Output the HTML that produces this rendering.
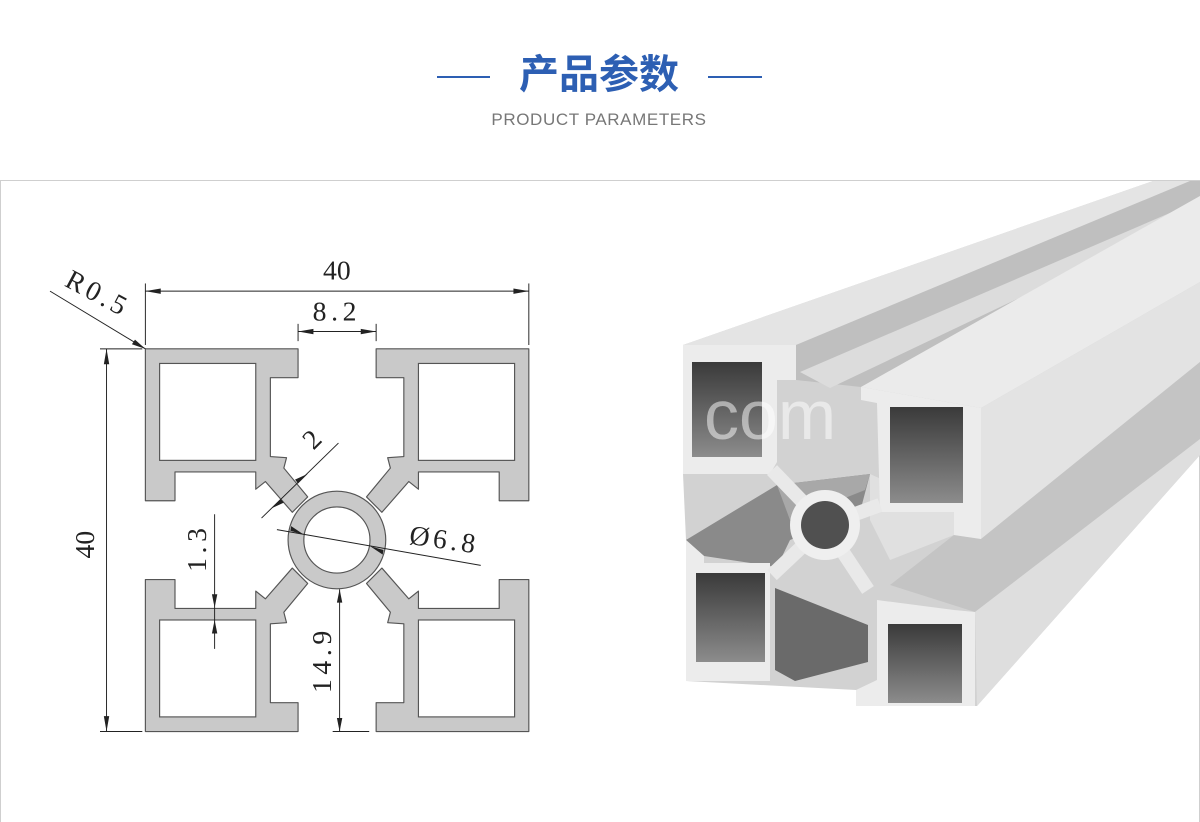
<!DOCTYPE html>
<html><head><meta charset="utf-8"><style>
html,body{margin:0;padding:0;background:#fff;width:1200px;height:822px;overflow:hidden}
svg{display:block}
</style></head><body>
<svg width="1200" height="822" viewBox="0 0 1200 822" xmlns="http://www.w3.org/2000/svg">
<rect x="0" y="0" width="1200" height="822" fill="#fff"/>
<!-- header -->
<line x1="437" y1="77" x2="490" y2="77" stroke="#2d5fb3" stroke-width="2"/>
<line x1="708" y1="77" x2="762" y2="77" stroke="#2d5fb3" stroke-width="2"/>
<text x="599" y="88" text-anchor="middle" font-family="'Liberation Sans','Noto Sans CJK SC',sans-serif" font-size="40" font-weight="bold" fill="#2d5fb3">产品参数</text>
<text x="599" y="125" text-anchor="middle" font-family="'Liberation Sans',sans-serif" font-size="17" fill="#777" letter-spacing="0.6">PRODUCT PARAMETERS</text>
<rect x="0.5" y="180.5" width="1199" height="645" fill="none" stroke="#cfcfcf" stroke-width="1"/>

<!-- left drawing (zoom coords) -->
<g transform="translate(0,170) scale(0.3846)">
  <defs>
    <g id="q">
      <path d="M378,465 H775 V540 H703 V745 L745,748 L738,775 L800,850 L760,890 L690,810 L665,830 V785 H455 V860 H378 Z" fill="#c9c9c9" stroke="#555" stroke-width="3" stroke-linejoin="round"/>
      <rect x="415" y="503" width="250" height="252" fill="#fff" stroke="#555" stroke-width="3"/>
    </g>
  </defs>
  <use href="#q"/>
  <use href="#q" transform="translate(1753,0) scale(-1,1)"/>
  <use href="#q" transform="translate(0,1925) scale(1,-1)"/>
  <use href="#q" transform="translate(1753,1925) scale(-1,-1)"/>
  <circle cx="876" cy="962" r="127" fill="#c9c9c9" stroke="#555" stroke-width="3"/>
  <circle cx="876" cy="962" r="86" fill="#fff" stroke="#555" stroke-width="3"/>
  <g stroke="#222" stroke-width="2.5" fill="none">
    <line x1="378" y1="295" x2="378" y2="455"/>
    <line x1="1375" y1="295" x2="1375" y2="455"/>
    <line x1="378" y1="315" x2="1375" y2="315"/>
    <line x1="775" y1="400" x2="775" y2="445"/>
    <line x1="978" y1="400" x2="978" y2="445"/>
    <line x1="775" y1="420" x2="978" y2="420"/>
    <line x1="260" y1="465" x2="370" y2="465"/>
    <line x1="260" y1="1460" x2="370" y2="1460"/>
    <line x1="277" y1="465" x2="277" y2="1460"/>
    <line x1="130" y1="315" x2="378" y2="465"/>
    <line x1="680" y1="905" x2="880" y2="710"/>
    <line x1="720" y1="935" x2="1250" y2="1028"/>
    <line x1="558" y1="895" x2="558" y2="1245"/>
    <line x1="883" y1="1090" x2="883" y2="1460"/>
    <line x1="865" y1="1460" x2="960" y2="1460"/>
  </g>
  <g fill="#222">
    <path d="M378,315 l40,-7 v14z"/><path d="M1375,315 l-40,-7 v14z"/>
    <path d="M775,420 l40,-7 v14z"/><path d="M978,420 l-40,-7 v14z"/>
    <path d="M277,465 l-7,40 h14z"/><path d="M277,1460 l-7,-40 h14z"/>
    <path d="M378,465 l-35,-12 l8,-12z"/>
    <path d="M558,1138 l-7,-35 h14z"/><path d="M558,1170 l-7,35 h14z"/>
    <path d="M883,1090 l-7,35 h14z"/><path d="M883,1460 l-7,-35 h14z"/>
    <path d="M790,948 l-35,-10 l2,-12z"/><path d="M962,978 l35,10 l-2,12z"/>
    <path d="M800,790 l-25,25 l-8,-10z"/><path d="M705,880 l25,-25 l8,10z"/>
  </g>
  <g font-family="'Liberation Serif',serif" font-size="72" fill="#222">
    <text x="876" y="285" text-anchor="middle">40</text>
    <text x="876" y="392" text-anchor="middle" letter-spacing="12">8.2</text>
    <text transform="translate(165,300) rotate(28)" letter-spacing="10">R0.5</text>
    <text transform="translate(245,1010) rotate(-90)" >40</text>
    <text transform="translate(535,1045) rotate(-90)" letter-spacing="12">1.3</text>
    <text transform="translate(860,1360) rotate(-90)" letter-spacing="12">14.9</text>
    <text transform="translate(815,730) rotate(-45)">2</text>
    <text transform="translate(1062,972) rotate(8)" letter-spacing="10">Ø6.8</text>
  </g>
</g>

<!-- right photo (full coords) -->
<defs>
  <linearGradient id="hole" x1="0" y1="0" x2="0" y2="1"><stop offset="0" stop-color="#3a3a3a"/><stop offset="1" stop-color="#8c8c8c"/></linearGradient>
</defs>
<path d="M683,345 L1153,181 L1200,181 L1200,455 L977,706 L856,706 L856,690 L686,681 L686,540 L683,474 Z" fill="#d2d2d2"/>
<path d="M683,345 L1153,181 L1190,181 L796,345 Z" fill="#e4e4e4"/>
<path d="M796,345 L1190,181 L1200,181 L1200,196 L861,387 L796,380 Z" fill="#bfbfbf"/>
<path d="M800,372 L1200,200 L1200,212 L830,388 Z" fill="#dcdcdc"/>
<path d="M861,387 L1200,196 L1200,282 L981,408 Z" fill="#ebebeb"/>
<path d="M981,408 L1200,282 L1200,362 L981,539 Z" fill="#e3e3e3"/>
<path d="M954,535 L981,539 L1200,362 L1200,440 L975,612 L890,585 Z" fill="#c4c4c4"/>
<path d="M975,612 L1200,439 L1200,455 L977,706 Z" fill="#dedede"/>
<!-- slots -->
<path d="M686,540 L777,485 L870,474 L860,512 L790,540 L777,567 L704,556 Z" fill="#8a8a8a"/>
<path d="M777,485 L870,474 L865,490 L790,520 Z" fill="#a8a8a8"/>
<path d="M775,588 L868,625 L868,662 L795,681 L775,670 Z" fill="#6a6a6a"/>
<path d="M870,474 L954,512 L954,535 L890,560 L870,520 Z" fill="#e0e0e0"/>
<!-- front faces -->
<path d="M683,345 L796,345 L796,380 L777,380 L777,462 L770,474 L683,474 Z" fill="#ececec"/>
<path d="M861,387 L981,408 L981,539 L954,535 L954,512 L880,512 L877,403 L861,400 Z" fill="#ececec"/>
<path d="M686,540 L704,556 L704,563 L770,563 L770,681 L686,681 Z" fill="#ececec"/>
<path d="M856,690 L877,680 L877,600 L954,610 L975,612 L975,706 L856,706 Z" fill="#ececec"/>
<!-- hub cross -->
<g stroke="#e9e9e9" stroke-width="14" stroke-linecap="butt">
  <line x1="825" y1="525" x2="772" y2="470"/>
  <line x1="825" y1="525" x2="880" y2="505"/>
  <line x1="825" y1="525" x2="772" y2="575"/>
  <line x1="825" y1="525" x2="868" y2="590"/>
</g>
<circle cx="825" cy="525" r="35" fill="#efefef"/>
<circle cx="825" cy="525" r="24" fill="#505050"/>
<!-- holes -->
<rect x="692" y="362" width="70" height="95" fill="url(#hole)"/>
<rect x="890" y="407" width="73" height="96" fill="url(#hole)"/>
<rect x="696" y="573" width="69" height="89" fill="url(#hole)"/>
<rect x="888" y="624" width="74" height="79" fill="url(#hole)"/>
<text x="704" y="439" font-family="'Liberation Sans',sans-serif" font-size="70" fill="#fff" fill-opacity="0.5">com</text>
</svg>
</body></html>
